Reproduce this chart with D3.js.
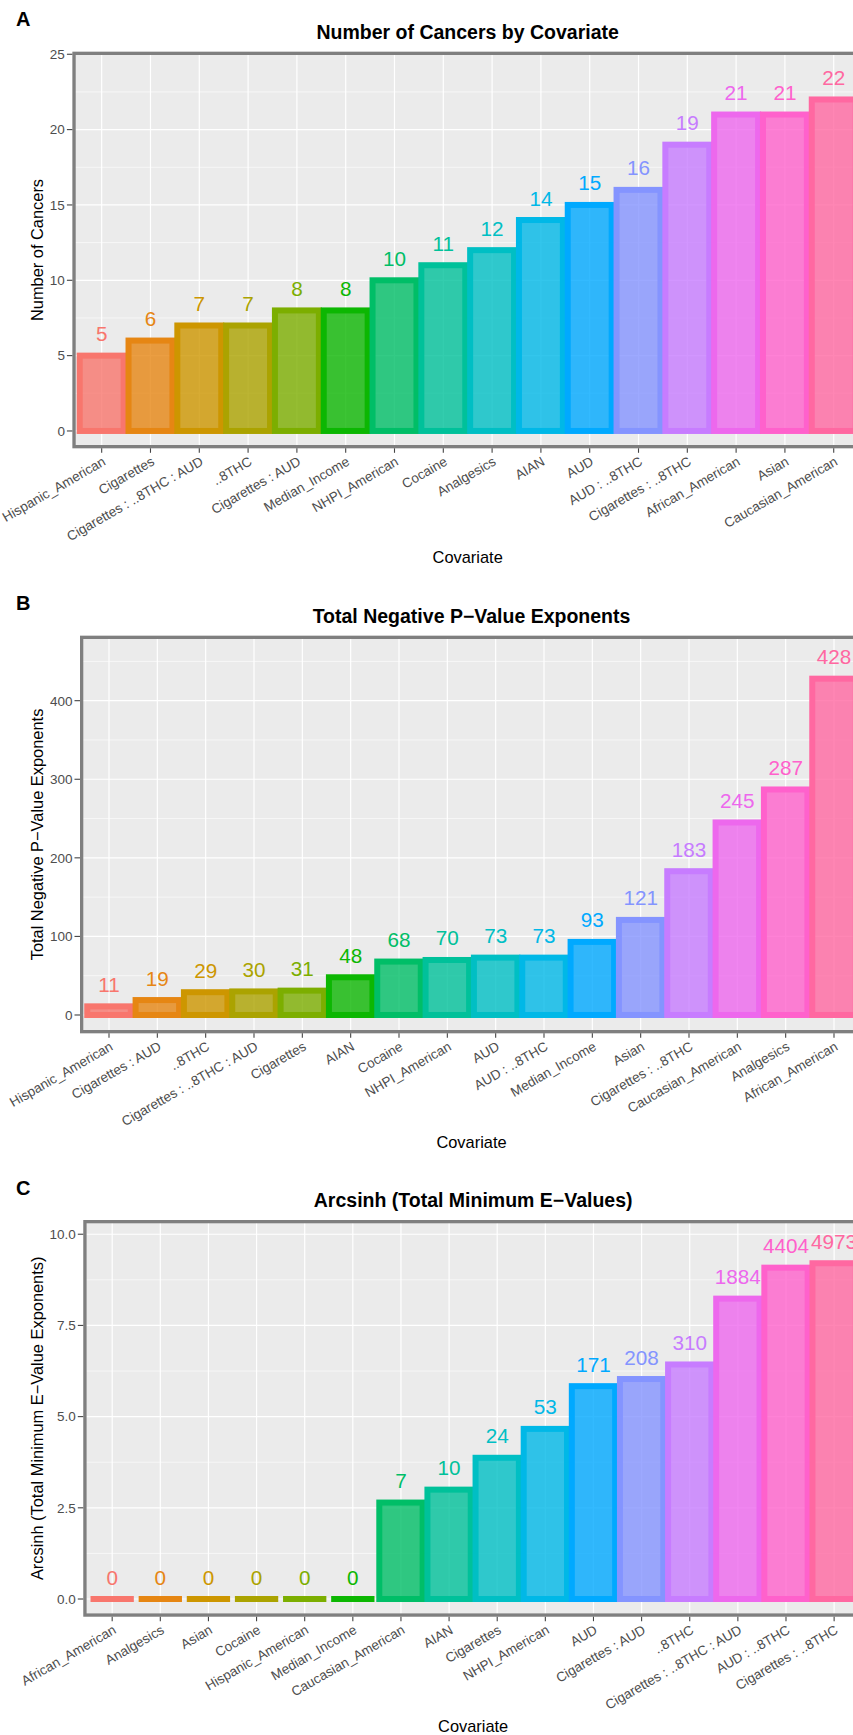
<!DOCTYPE html>
<html>
<head>
<meta charset="utf-8">
<script src="https://cdn.jsdelivr.net/npm/d3@7"></script>
<style>
  html, body { margin: 0; padding: 0; background: #ffffff; }
  svg { display: block; font-family: "Liberation Sans", Arial, Helvetica, sans-serif; }
</style>
</head>
<body>
<script>
// ---- Panel A: number of cancers per covariate ----
const catsA = ["Hispanic_American", "Cigarettes", "Cigarettes : ..8THC : AUD", "..8THC",
  "Cigarettes : AUD", "Median_Income", "NHPI_American", "Cocaine", "Analgesics", "AIAN",
  "AUD", "AUD : ..8THC", "Cigarettes : ..8THC", "African_American", "Asian", "Caucasian_American"];
const valsA = [5, 6, 7, 7, 8, 8, 10, 11, 12, 14, 15, 16, 19, 21, 21, 22];
const ticksA = [0, 5, 10, 15, 20, 25];

// ---- Panel B: total negative p-value exponents ----
const catsB = ["Hispanic_American", "Cigarettes : AUD", "..8THC", "Cigarettes : ..8THC : AUD",
  "Cigarettes", "AIAN", "Cocaine", "NHPI_American", "AUD", "AUD : ..8THC", "Median_Income",
  "Asian", "Cigarettes : ..8THC", "Caucasian_American", "Analgesics", "African_American"];
const valsB = [11, 19, 29, 30, 31, 48, 68, 70, 73, 73, 93, 121, 183, 245, 287, 428];
const ticksB = [0, 100, 200, 300, 400];

// ---- Panel C: total minimum E-values (bars drawn on an arcsinh scale) ----
const catsC = ["African_American", "Analgesics", "Asian", "Cocaine", "Hispanic_American",
  "Median_Income", "Caucasian_American", "AIAN", "Cigarettes", "NHPI_American", "AUD",
  "Cigarettes : AUD", "..8THC", "Cigarettes : ..8THC : AUD", "AUD : ..8THC", "Cigarettes : ..8THC"];
const evalsC = [0, 0, 0, 0, 0, 0, 7, 10, 24, 53, 171, 208, 310, 1884, 4404, 4973];
const ticksC = [0, 2.5, 5, 7.5, 10];

// discrete hue palette, assigned by bar rank
const palette = ["#F8766D", "#E68613", "#CD9600", "#ABA300", "#7CAE00", "#0CB702", "#00BE67", "#00C19A",
  "#00BFC4", "#00B8E7", "#00A9FF", "#8494FF", "#C77CFF", "#ED68ED", "#FF61CC", "#FF68A1"];

const W = 853, H = 1735;
const svg = d3.select("body").append("svg").attr("width", W).attr("height", H);

const panels = [
  { tag: "A", title: "Number of Cancers by Covariate", ytitle: "Number of Cancers",
    cats: catsA, vals: valsA, labels: valsA, ticks: ticksA, fmt: d3.format("d"),
    left: 72.4, top: 51.7, bottom: 448.3, domain: [-1.15, 25.17], tagY: 26 },
  { tag: "B", title: "Total Negative P\u2212Value Exponents", ytitle: "Total Negative P\u2212Value Exponents",
    cats: catsB, vals: valsB, labels: valsB, ticks: ticksB, fmt: d3.format("d"),
    left: 80, top: 635.7, bottom: 1033.3, domain: [-23.3, 482.7], tagY: 610 },
  { tag: "C", title: "Arcsinh (Total Minimum E\u2212Values)", ytitle: "Arcsinh (Total Minimum E\u2212Value Exponents)",
    cats: catsC, vals: evalsC.map(Math.asinh), labels: evalsC, ticks: ticksC, fmt: d3.format(".1f"),
    left: 83.3, top: 1220, bottom: 1616.7, domain: [-0.485, 10.39], tagY: 1195 }
];

const RIGHT = 863;

panels.forEach(p => {
  const g = svg.append("g");
  const x = d3.scalePoint().domain(p.cats).range([p.left, RIGHT]).padding(0.6);
  const y = d3.scaleLinear().domain(p.domain).range([p.bottom, p.top]);
  const step = x.step();
  const bw = step * 0.9;
  const cx = (p.left + RIGHT) / 2;

  // panel background
  g.append("rect").attr("x", p.left).attr("y", p.top)
    .attr("width", RIGHT - p.left).attr("height", p.bottom - p.top).attr("fill", "#EBEBEB");

  // minor horizontal grid (midpoints between major ticks)
  const tstep = p.ticks[1] - p.ticks[0];
  const minor = [p.ticks[0] - tstep / 2].concat(p.ticks.map(t => t + tstep / 2))
    .filter(v => v > p.domain[0] && v < p.domain[1]);
  g.selectAll(".minor").data(minor).join("line")
    .attr("x1", p.left).attr("x2", RIGHT).attr("y1", d => y(d)).attr("y2", d => y(d))
    .attr("stroke", "#ffffff").attr("stroke-width", 0.6);
  // major grid
  g.selectAll(".majorY").data(p.ticks).join("line")
    .attr("x1", p.left).attr("x2", RIGHT).attr("y1", d => y(d)).attr("y2", d => y(d))
    .attr("stroke", "#ffffff").attr("stroke-width", 1.2);
  g.selectAll(".majorX").data(p.cats).join("line")
    .attr("x1", d => x(d)).attr("x2", d => x(d)).attr("y1", p.top).attr("y2", p.bottom)
    .attr("stroke", "#ffffff").attr("stroke-width", 1.2);

  // bars
  const items = p.cats.map((c, i) => ({ c, v: p.vals[i], lab: p.labels[i], col: palette[i] }));
  items.forEach(d => {
    const y0 = y(0), y1 = y(d.v);
    if (y0 - y1 < 0.5) {
      g.append("line").attr("x1", x(d.c) - bw / 2).attr("x2", x(d.c) + bw / 2)
        .attr("y1", y0).attr("y2", y0).attr("stroke", d.col).attr("stroke-width", 6);
    } else {
      g.append("rect").attr("x", x(d.c) - bw / 2).attr("width", bw)
        .attr("y", y1).attr("height", y0 - y1)
        .attr("fill", d.col).attr("fill-opacity", 0.8)
        .attr("stroke", d.col).attr("stroke-width", 6).attr("stroke-linejoin", "miter");
    }
  });

  // value labels
  g.selectAll(".lab").data(items).join("text")
    .attr("x", d => x(d.c)).attr("y", d => y(d.v) - 14.5)
    .attr("text-anchor", "middle").attr("font-size", 20.7).attr("fill", d => d.col)
    .text(d => d.lab);

  // panel border
  g.append("rect").attr("x", p.left + 1.65).attr("y", p.top + 1.65)
    .attr("width", RIGHT - p.left - 3.3).attr("height", p.bottom - p.top - 3.3)
    .attr("fill", "none").attr("stroke", "#7F7F7F").attr("stroke-width", 3.3);

  // y axis ticks and labels
  g.selectAll(".yt").data(p.ticks).join("line")
    .attr("x1", p.left - 5.5).attr("x2", p.left).attr("y1", d => y(d)).attr("y2", d => y(d))
    .attr("stroke", "#444444").attr("stroke-width", 1.1);
  g.selectAll(".yl").data(p.ticks).join("text")
    .attr("x", p.left - 7.5).attr("y", d => y(d)).attr("dy", "0.36em")
    .attr("text-anchor", "end").attr("font-size", 13.5).attr("fill", "#4D4D4D")
    .text(d => p.fmt(d));

  // x axis ticks and rotated labels
  g.selectAll(".xt").data(p.cats).join("line")
    .attr("x1", d => x(d)).attr("x2", d => x(d)).attr("y1", p.bottom).attr("y2", p.bottom + 4.5)
    .attr("stroke", "#444444").attr("stroke-width", 1.1);
  g.selectAll(".xl").data(p.cats).join("text")
    .attr("transform", d => `translate(${x(d)},${p.bottom + 7.5}) rotate(-30)`)
    .attr("y", 9.7).attr("text-anchor", "end").attr("font-size", 13.5).attr("fill", "#4D4D4D")
    .text(d => d);

  // titles
  g.append("text").attr("x", 16).attr("y", p.tagY).attr("font-size", 20).attr("font-weight", "bold")
    .attr("fill", "#000").text(p.tag);
  g.append("text").attr("x", cx).attr("y", p.top - 12.8).attr("text-anchor", "middle")
    .attr("font-size", 19.5).attr("font-weight", "bold").attr("fill", "#000").text(p.title);
  g.append("text").attr("x", cx).attr("y", p.bottom + 115).attr("text-anchor", "middle")
    .attr("font-size", 16.4).attr("fill", "#000").text("Covariate");
  g.append("text").attr("transform", `translate(42.5,${(p.top + p.bottom) / 2}) rotate(-90)`)
    .attr("text-anchor", "middle").attr("font-size", 16.4).attr("fill", "#000").text(p.ytitle);
});
</script>
</body>
</html>
